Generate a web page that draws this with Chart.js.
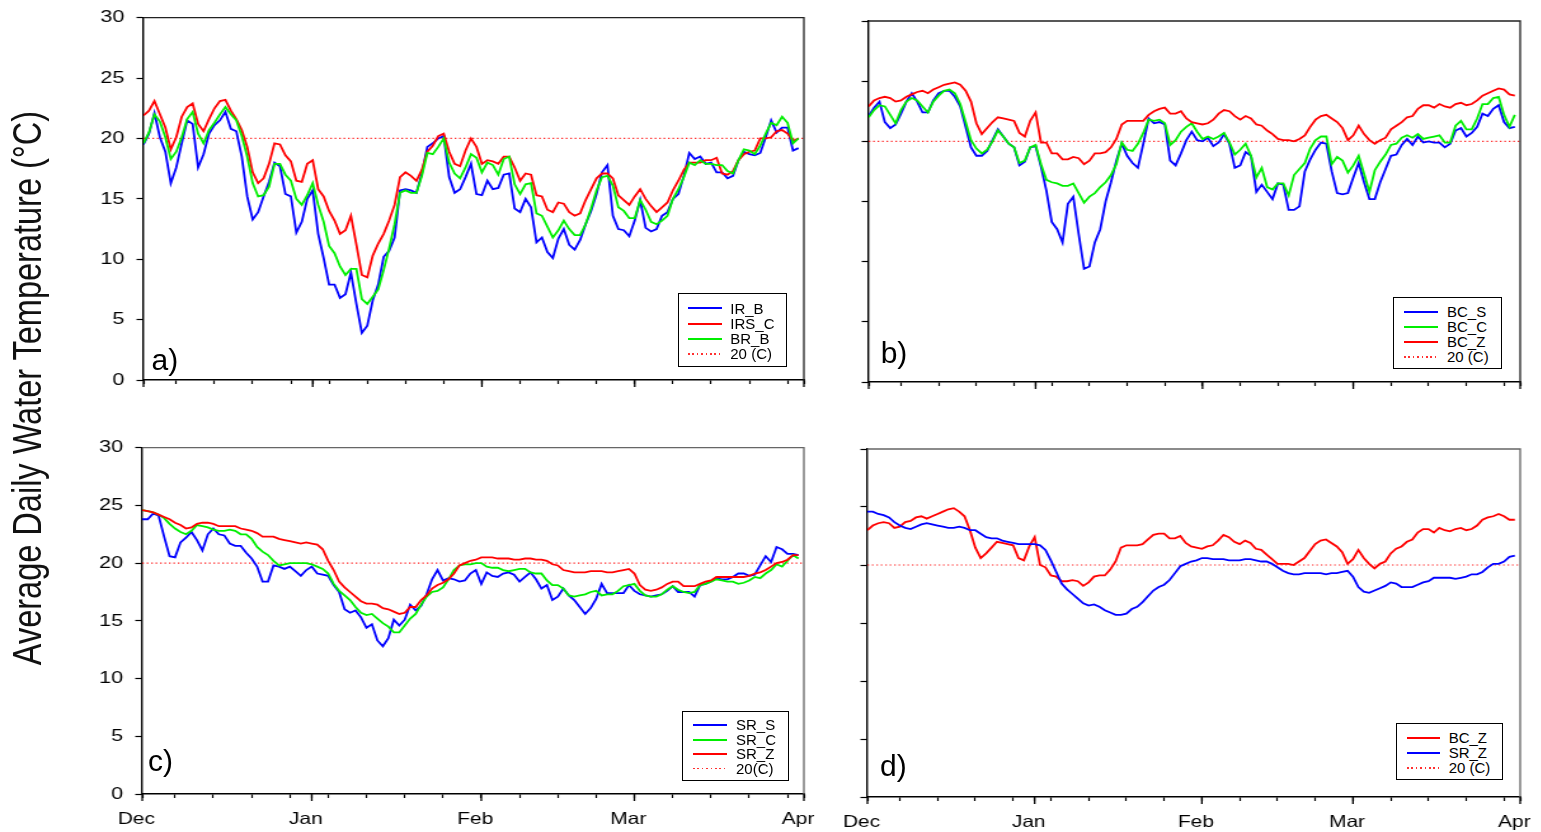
<!DOCTYPE html>
<html>
<head>
<meta charset="utf-8">
<script src="https://cdn.jsdelivr.net/npm/chart.js@4.4.1/dist/chart.umd.min.js"></script>
<style>
  html, body { margin: 0; padding: 0; background: #fff; }
  body { width: 1541px; height: 832px; position: relative; overflow: hidden;
         font-family: "Liberation Sans", Arial, sans-serif; }
  /* исходный рисунок растянут по горизонтали, повторяем это */
  #stage { position: absolute; left: 0; top: 0; width: 1214px; height: 832px;
           transform: scaleX(1.27); transform-origin: 0 0; }
  #stage canvas { position: absolute; }
  #ytitle { position: absolute; left: 22.2px; top: 388px; font-size: 32.5px; color: #111;
            white-space: nowrap; transform: translate(-50%, -50%) rotate(-90deg); }
  .legend { position: absolute; border: 1.6px solid #000; box-sizing: border-box; background: #fff; }
  .legend .row { position: absolute; left: 0; right: 0; height: 15px; }
  .legend .sample { position: absolute; top: 6.5px; height: 2px; }
  .legend .dots { height: 1.6px; top: 7px;
                  background: repeating-linear-gradient(90deg, #ff3030 0 1.6px, transparent 1.6px 4.4px); }
  .legend .txt { position: absolute; top: 0; font-size: 15px; line-height: 15px; color: #000; white-space: nowrap; }
  .plabel { position: absolute; font-size: 30px; line-height: 30px; color: #000; }
</style>
</head>
<body>
<div id="stage">
  <canvas id="chartA"></canvas>
  <canvas id="chartB"></canvas>
  <canvas id="chartC"></canvas>
  <canvas id="chartD"></canvas>
  <div id="ytitle">Average Daily Water Temperature (°C)</div>
</div>
<div class="plabel" style="left:151.5px; top:344.6px;">a)</div>
<div class="plabel" style="left:880.7px; top:338px;">b)</div>
<div class="plabel" style="left:148px; top:746.3px;">c)</div>
<div class="plabel" style="left:880px; top:751.3px;">d)</div>

<script>
// Ось X: дни от 1 декабря
const MONTHS = ['Dec', 'Jan', 'Feb', 'Mar', 'Apr'];
const MONTH_DAYS = [0, 31, 62, 90, 121];
const TICK_DAYS = [0, 6, 13, 20, 27, 31, 34, 41, 48, 55, 62, 69, 76, 83, 90, 97, 104, 111, 118, 121];
const THRESHOLD = 20;

// a) IR_B, IRS_C, BR_B
const irB = [
  19.5, 20.4, 22.1, 20.1, 18.9, 16.3, 17.6, 19.6, 21.5, 21.2,
  17.6, 18.7, 20.4, 21.1, 21.5, 22.2, 20.8, 20.6, 18.5, 15.2,
  13.3, 13.9, 15.2, 16.4, 18.0, 17.7, 15.4, 15.2, 12.2, 13.1,
  15.0, 15.7, 12.1, 10.1, 7.9, 7.9, 6.8, 7.1, 8.9, 6.3,
  3.9, 4.5, 6.6, 7.9, 10.2, 10.7, 11.8, 15.7, 15.8, 15.7,
  15.5, 17.1, 19.3, 19.6, 20.0, 20.2, 16.8, 15.5, 15.8, 16.8,
  17.9, 15.4, 15.3, 16.5, 15.8, 15.9, 17.0, 17.1, 14.2, 13.9,
  15.0, 14.3, 11.4, 11.8, 10.6, 10.1, 11.7, 12.5, 11.2, 10.8,
  11.6, 12.9, 14.0, 15.4, 17.2, 17.8, 13.6, 12.5, 12.4, 11.9,
  13.2, 14.9, 12.6, 12.3, 12.5, 13.6, 13.9, 15.0, 15.4, 16.9,
  18.8, 18.3, 18.5, 17.9, 18.0, 17.2, 17.2, 16.7, 16.9, 18.2,
  18.9, 18.7, 18.6, 18.8, 20.1, 21.5, 20.5, 20.9, 20.9, 19.0,
  19.2
];
const irsC = [
  21.9, 22.3, 23.1, 22.0, 20.9, 19.1, 20.1, 21.8, 22.6, 22.9,
  21.2, 20.6, 21.6, 22.5, 23.1, 23.2, 22.3, 21.6, 20.7, 19.3,
  17.2, 16.3, 16.7, 17.9, 19.6, 19.5, 18.6, 18.1, 16.5, 16.4,
  17.9, 18.2, 15.8, 15.2, 14.0, 13.2, 12.1, 12.4, 13.6, 11.2,
  8.7, 8.5, 10.3, 11.3, 12.1, 13.2, 14.5, 16.8, 17.2, 16.9,
  16.5, 17.4, 18.9, 19.4, 20.2, 20.4, 18.9, 17.9, 17.7, 19.0,
  20.0, 19.3, 17.9, 18.2, 18.1, 17.9, 18.5, 18.5, 17.6, 16.5,
  17.1, 17.0, 15.3, 15.2, 14.1, 13.9, 14.7, 14.6, 13.9, 13.6,
  13.8, 14.9, 15.8, 16.7, 17.1, 17.1, 16.7, 15.3, 14.9, 14.5,
  15.2, 15.8, 15.0, 14.4, 13.9, 14.3, 14.7, 15.7, 16.5, 17.4,
  18.0, 18.0, 18.0, 18.2, 18.2, 18.4, 17.1, 17.0, 17.3, 18.2,
  18.7, 18.9, 19.0, 20.0, 20.0, 20.1, 20.6, 20.7, 20.4, 19.8,
  20.0
];
const brB = [
  19.6, 20.5, 22.0, 21.4, 20.1, 18.3, 18.9, 20.1, 21.6, 22.2,
  20.4, 19.6, 20.7, 21.3, 22.0, 22.6, 22.0, 21.5, 20.2, 18.5,
  16.3, 15.2, 15.3, 16.0, 17.9, 17.9, 17.0, 16.5, 15.0, 14.5,
  15.3, 16.3, 14.5, 13.1, 11.1, 10.5, 9.4, 8.7, 9.2, 9.2,
  6.7, 6.3, 6.9, 7.5, 9.1, 10.9, 12.9, 15.5, 15.7, 15.5,
  15.5, 16.9, 18.8, 18.7, 19.3, 20.0, 18.0, 17.1, 16.7, 17.6,
  18.7, 18.4, 17.2, 18.0, 17.8, 17.0, 18.3, 18.5, 16.2, 15.4,
  16.2, 16.3, 13.8, 13.6, 12.7, 11.8, 12.4, 13.2, 12.5, 12.0,
  12.0, 12.9, 14.2, 15.7, 16.8, 16.9, 16.1, 14.3, 14.0, 13.4,
  13.4, 14.9, 14.1, 13.1, 12.9, 13.2, 13.6, 15.0, 15.8, 16.8,
  18.0, 17.8, 18.2, 17.9, 17.9, 17.8, 17.8, 17.3, 17.1, 18.2,
  19.1, 19.0, 18.7, 19.4, 20.4, 21.3, 21.1, 21.8, 21.3, 19.6,
  20.0
];

// b) BC_S, BC_C, BC_Z
const bcS = [
  22.1, 22.8, 23.3, 21.6, 21.1, 21.4, 22.3, 23.3, 24.0, 23.3,
  22.4, 22.4, 23.4, 24.0, 24.2, 24.2, 23.7, 22.9, 21.2, 19.5,
  18.8, 18.8, 19.2, 20.1, 21.0, 20.4, 19.8, 19.5, 18.0, 18.3,
  19.5, 19.6, 17.9, 15.9, 13.3, 12.7, 11.6, 14.8, 15.4, 12.3,
  9.4, 9.6, 11.6, 12.7, 15.0, 16.6, 18.4, 19.8, 18.8, 18.2,
  17.8, 19.8, 21.9, 21.5, 21.6, 21.4, 18.4, 18.0, 19.0, 20.1,
  20.8, 20.1, 20.0, 20.3, 19.6, 19.9, 20.6, 19.8, 17.8, 18.0,
  19.1, 18.8, 15.8, 16.4, 15.8, 15.2, 16.5, 16.4, 14.3, 14.3,
  14.6, 17.5, 18.5, 19.3, 19.9, 19.8, 17.5, 15.7, 15.6, 15.7,
  17.0, 18.2, 16.6, 15.2, 15.2, 16.6, 17.7, 18.8, 18.9, 19.7,
  20.2, 19.7, 20.4, 19.9, 20.0, 19.9, 19.9, 19.5, 19.8, 20.9,
  21.1, 20.4, 20.7, 21.2, 22.3, 22.1, 22.7, 23.0, 21.6, 21.1,
  21.2
];
const bcC = [
  22.0, 22.6, 23.0, 22.9, 22.2, 21.5, 22.6, 23.3, 23.6, 23.4,
  22.9, 22.4, 23.3, 23.8, 24.2, 24.3, 24.0, 23.1, 21.6, 20.1,
  19.4, 19.0, 19.3, 20.0, 20.9, 20.4, 19.8, 19.5, 18.2, 18.4,
  19.5, 19.7, 18.1, 16.8, 16.6, 16.5, 16.3, 16.3, 16.5, 15.7,
  14.9, 15.4, 15.7, 16.2, 16.6, 17.2, 18.1, 19.9, 19.3, 19.2,
  19.8, 20.7, 21.8, 21.7, 21.8, 21.5, 19.7, 20.1, 20.8, 21.2,
  21.5, 20.8, 20.2, 20.4, 20.2, 20.4, 20.7, 19.9, 18.9, 19.3,
  19.8, 18.8, 17.0, 17.8, 16.2, 16.0, 16.5, 16.5, 15.5, 17.2,
  17.7, 18.2, 19.4, 20.1, 20.4, 20.4, 18.1, 18.7, 18.4, 17.4,
  18.0, 18.8, 17.3, 15.8, 17.6, 18.3, 18.9, 19.7, 19.8, 20.3,
  20.5, 20.3, 20.6, 20.2, 20.3, 20.4, 20.5, 19.9, 19.9, 21.3,
  21.7, 21.0, 21.0, 21.9, 23.1, 23.1, 23.6, 23.7, 22.2, 21.2,
  22.2
];
const bcZ = [
  22.9, 23.4, 23.6, 23.7, 23.6, 23.3, 23.4, 23.7, 23.9, 24.1,
  24.2, 24.0, 24.3, 24.5, 24.7, 24.8, 24.9, 24.7, 24.2, 23.3,
  21.5, 20.6, 21.1, 21.6, 22.0, 21.9, 21.8, 21.7, 20.7, 20.4,
  21.7, 22.4, 19.9, 19.9, 19.0, 19.0, 18.5, 18.5, 18.7, 18.6,
  18.1, 18.4, 19.0, 19.0, 19.1, 19.5, 20.2, 21.4, 21.7, 21.7,
  21.7, 21.7, 22.2, 22.5, 22.7, 22.8, 22.3, 22.3, 22.5, 21.9,
  21.6, 21.5, 21.4, 21.5, 21.8, 22.3, 22.6, 22.5, 22.1, 21.8,
  22.1, 21.9, 21.4, 21.3, 20.9, 20.6, 20.2, 20.1, 20.1, 20.0,
  20.2, 20.5, 21.2, 21.8, 22.1, 22.2, 21.9, 21.6, 21.1, 20.1,
  20.5, 21.3, 20.6, 20.1, 19.8, 20.1, 20.3, 21.0, 21.3, 21.6,
  22.0, 22.1, 22.7, 23.0, 23.0, 22.8, 23.1, 22.9, 22.8, 23.1,
  23.2, 23.0, 23.1, 23.4, 23.8, 24.0, 24.2, 24.4, 24.3, 23.9,
  23.8
];

// c) SR_S, SR_C, SR_Z
const srS = [
  23.8, 23.8, 24.3, 24.1, 22.3, 20.6, 20.5, 21.8, 22.2, 22.7,
  22.0, 21.1, 22.5, 23.0, 22.5, 22.4, 21.7, 21.5, 21.5, 20.9,
  20.4, 19.7, 18.4, 18.4, 19.8, 19.7, 19.5, 19.7, 19.3, 18.9,
  19.4, 19.7, 19.1, 19.0, 18.9, 18.1, 17.5, 16.0, 15.7, 15.9,
  15.3, 14.4, 14.7, 13.3, 12.8, 13.5, 15.1, 14.6, 15.1, 16.4,
  15.9, 16.3, 17.3, 18.6, 19.4, 18.5, 18.7, 18.6, 18.4, 18.5,
  19.1, 19.4, 18.2, 19.2, 18.9, 18.8, 19.1, 19.2, 19.0, 18.4,
  18.8, 19.2, 18.6, 17.8, 18.1, 16.8, 17.1, 17.8, 17.2, 16.8,
  16.2, 15.6, 16.1, 16.9, 18.2, 17.4, 17.4, 17.4, 17.4, 18.1,
  17.6, 17.3, 17.2, 17.1, 17.2, 17.3, 17.6, 18.0, 17.5, 17.5,
  17.5, 17.1, 18.1, 18.2, 18.4, 18.7, 18.6, 18.6, 18.8, 19.1,
  19.1, 18.9, 19.0, 19.8, 20.6, 20.1, 21.4, 21.2, 20.8, 20.8,
  20.7
];
const srC = [
  24.6, 24.5, 24.4, 24.2, 23.9, 23.4, 23.0, 22.7, 22.5, 22.8,
  23.3, 23.2, 23.1, 22.9, 22.8, 22.8, 22.9, 22.8, 22.5, 22.5,
  22.1, 21.4, 21.0, 20.7, 20.2, 19.8, 19.9, 20.0, 20.0, 20.0,
  20.0, 19.9, 19.7, 19.5, 19.1, 18.2, 17.6, 17.2, 16.8, 16.2,
  15.7, 15.5, 15.6, 15.2, 14.8, 14.5, 14.0, 14.0, 14.6, 15.2,
  15.6, 16.4, 17.1, 17.5, 17.6, 17.9, 18.6, 19.4, 19.8, 19.9,
  19.9, 20.0, 20.0, 19.7, 19.6, 19.6, 19.4, 19.3, 19.4, 19.5,
  19.5, 19.2, 19.1, 19.1, 18.5, 18.1, 18.1, 17.8, 17.2, 17.1,
  17.2, 17.3, 17.5, 17.6, 17.2, 17.3, 17.3, 17.6, 18.0, 18.1,
  18.2, 17.6, 17.2, 17.1, 17.1, 17.3, 17.7, 18.0, 17.7, 17.5,
  17.4, 17.5, 18.1, 18.2, 18.4, 18.6, 18.5, 18.4, 18.4, 18.2,
  18.3, 18.5, 18.8, 18.7, 19.1, 19.4, 19.9, 19.7, 20.2, 20.7,
  20.4
];
const srZ = [
  24.6, 24.5, 24.4, 24.2, 24.0, 23.8, 23.5, 23.3, 23.0, 23.1,
  23.4, 23.5, 23.5, 23.4, 23.2, 23.2, 23.2, 23.2, 23.0, 22.9,
  22.8, 22.6, 22.3, 22.3, 22.3, 22.1, 22.0, 21.9, 21.8, 21.7,
  21.8, 21.7, 21.6, 21.2, 20.2, 19.4, 18.4, 17.9, 17.5, 17.1,
  16.7, 16.5, 16.5, 16.4, 16.1, 16.0, 15.8, 15.6, 15.7, 16.2,
  16.2, 16.8, 17.2, 17.8, 18.1, 18.3, 18.6, 19.1, 19.8, 20.0,
  20.2, 20.3, 20.5, 20.5, 20.5, 20.4, 20.4, 20.4, 20.3, 20.3,
  20.4, 20.4, 20.3, 20.3, 20.2, 19.9, 19.8, 19.4, 19.3, 19.2,
  19.2, 19.2, 19.3, 19.3, 19.3, 19.2, 19.2, 19.3, 19.4, 19.5,
  19.1, 18.1, 17.7, 17.6, 17.7, 17.9, 18.2, 18.4, 18.4, 18.0,
  18.0, 18.0, 18.2, 18.4, 18.5, 18.8, 18.8, 18.8, 18.8, 18.8,
  18.8, 18.9, 19.1, 19.2, 19.4, 19.7, 20.0, 20.1, 20.3, 20.7,
  20.7
];

// d) BC_Z, SR_Z
const bcZd = [
  23.0, 23.4, 23.6, 23.7, 23.6, 23.2, 23.3, 23.7, 23.8, 24.1,
  24.2, 24.0, 24.2, 24.4, 24.6, 24.8, 24.9, 24.6, 24.2, 23.0,
  21.5, 20.6, 21.0, 21.5, 22.0, 21.9, 21.8, 21.7, 20.6, 20.4,
  21.6, 22.4, 20.0, 19.8, 19.1, 19.0, 18.6, 18.6, 18.7, 18.6,
  18.2, 18.5, 19.0, 19.1, 19.1, 19.6, 20.3, 21.5, 21.7, 21.7,
  21.7, 21.8, 22.2, 22.6, 22.7, 22.7, 22.3, 22.3, 22.5, 21.9,
  21.6, 21.5, 21.4, 21.6, 21.7, 22.1, 22.6, 22.4, 22.0, 21.8,
  22.1, 21.9, 21.4, 21.3, 20.9, 20.5, 20.1, 20.1, 20.1, 20.0,
  20.3, 20.6, 21.2, 21.8, 22.1, 22.2, 21.9, 21.6, 21.1, 20.1,
  20.5, 21.3, 20.6, 20.1, 19.7, 20.1, 20.3, 21.0, 21.4, 21.6,
  22.0, 22.2, 22.8, 23.1, 23.1, 22.8, 23.2, 23.0, 22.9, 23.1,
  23.2, 23.0, 23.1, 23.4, 23.9, 24.1, 24.2, 24.4, 24.2, 23.9,
  23.9
];
const srZd = [
  24.6, 24.6, 24.4, 24.3, 24.1, 23.7, 23.4, 23.2, 23.1, 23.3,
  23.5, 23.6, 23.5, 23.4, 23.3, 23.2, 23.2, 23.3, 23.2, 23.0,
  23.0, 22.7, 22.4, 22.3, 22.3, 22.1, 22.0, 21.9, 21.8, 21.8,
  21.8, 21.8, 21.7, 21.3, 20.4, 19.4, 18.4, 17.9, 17.5, 17.1,
  16.7, 16.5, 16.6, 16.4, 16.1, 15.9, 15.7, 15.7, 15.8, 16.2,
  16.4, 16.8, 17.3, 17.8, 18.1, 18.3, 18.7, 19.3, 19.9, 20.1,
  20.3, 20.4, 20.6, 20.6, 20.5, 20.5, 20.5, 20.4, 20.4, 20.4,
  20.5, 20.5, 20.4, 20.3, 20.3, 20.1, 19.8, 19.5, 19.3, 19.2,
  19.2, 19.3, 19.3, 19.3, 19.3, 19.2, 19.3, 19.3, 19.4, 19.5,
  19.0, 18.1, 17.7, 17.6, 17.8, 18.0, 18.2, 18.5, 18.4, 18.1,
  18.1, 18.1, 18.3, 18.5, 18.6, 18.9, 18.9, 18.9, 18.9, 18.8,
  18.9, 19.0, 19.2, 19.2, 19.4, 19.8, 20.1, 20.1, 20.3, 20.7,
  20.8
];

const BLUE = '#0000ff', RED = '#ff0000', GREEN = '#00ee00';
const S = 1.27;                       // горизонтальное растяжение
const YW = 45, PT = 10, PR = 30, XH = 36;
const FONT = '"Liberation Sans", Arial, sans-serif';

// Доп. длина у меток месяцев и рамка сверху/справа
function framePlugin(frameColor) {
  return {
    id: 'frame',
    afterDraw(chart) {
      const ctx = chart.ctx, a = chart.chartArea, xs = chart.scales.x;
      ctx.save();
      ctx.strokeStyle = '#000';
      ctx.lineWidth = 1.3;
      MONTH_DAYS.forEach(d => {
        const px = xs.getPixelForValue(d);
        ctx.beginPath();
        ctx.moveTo(px, a.bottom);
        ctx.lineTo(px, a.bottom + 7);
        ctx.stroke();
      });
      ctx.strokeStyle = frameColor;
      ctx.beginPath();
      ctx.moveTo(a.left, a.top);
      ctx.lineTo(a.right, a.top);
      ctx.lineTo(a.right, a.bottom);
      ctx.stroke();
      ctx.restore();
    }
  };
}

function chartConfig(series, opts) {
  const datasets = series.map((s, i) => ({
    label: s.label,
    data: s.values.map((v, d) => ({ x: d, y: v })),
    borderColor: s.color,
    borderWidth: 1.8,
    pointRadius: 0,
    tension: 0,
    fill: false,
    order: series.length - i
  }));
  datasets.push({
    label: opts.refLabel,
    data: [{ x: 0, y: THRESHOLD }, { x: 121, y: THRESHOLD }],
    borderColor: 'rgba(255,0,0,0.85)',
    borderWidth: 1.2,
    borderDash: [1.3, 2.2],
    pointRadius: 0,
    order: series.length + 1
  });
  return {
    type: 'line',
    data: { datasets },
    options: {
      responsive: false,
      maintainAspectRatio: false,
      devicePixelRatio: 1,
      animation: false,
      events: [],
      layout: { padding: { left: 0, top: PT, right: PR, bottom: 0 } },
      plugins: { legend: { display: false }, tooltip: { enabled: false } },
      scales: {
        x: {
          type: 'linear', min: 0, max: 121,
          afterBuildTicks: sc => { sc.ticks = TICK_DAYS.map(v => ({ value: v })); },
          afterFit: sc => { sc.height = XH; },
          grid: { drawOnChartArea: false, tickLength: 4, tickColor: '#000', tickWidth: 1.2 },
          border: { color: '#000', width: 1.4 },
          ticks: {
            display: opts.xLabels, autoSkip: false, maxRotation: 0,
            padding: 11.8, labelOffset: -4.7, color: '#000',
            font: { family: FONT, size: 16.5 },
            callback: v => {
              const k = MONTH_DAYS.indexOf(v);
              return k >= 0 ? MONTHS[k] : '';
            }
          }
        },
        y: {
          min: 0, max: 30,
          afterFit: sc => { sc.width = YW; },
          grid: { drawOnChartArea: false, tickLength: 5.5, tickColor: '#000', tickWidth: 1.2 },
          border: { color: '#000', width: 1.4 },
          ticks: {
            display: opts.yLabels, stepSize: 5, padding: 9.5, color: '#000',
            font: { family: FONT, size: 17 }
          }
        }
      }
    },
    plugins: [framePlugin(opts.frame)]
  };
}

function makePanel(canvasId, box, series, opts) {
  const canvas = document.getElementById(canvasId);
  const l = box.L / S, r = box.R / S;
  const areaW = r - l, areaH = box.B - box.T;

  // пробный график: узнаём отступы области построения
  const w0 = 700, h0 = 420;
  canvas.width = w0;
  canvas.height = h0;
  let chart = new Chart(canvas, chartConfig(series, opts));
  const a = chart.chartArea;
  const offL = a.left, offT = a.top, offR = w0 - a.right, offB = h0 - a.bottom;
  chart.destroy();

  canvas.width = Math.round(offL + areaW + offR);
  canvas.height = Math.round(offT + areaH + offB);
  canvas.style.left = (l - offL) + 'px';
  canvas.style.top = (box.T - offT) + 'px';
  chart = new Chart(canvas, chartConfig(series, opts));

  // легенда поверх, в экранных координатах (она не растянута)
  const lg = document.createElement('div');
  lg.className = 'legend';
  const L = opts.legend;
  lg.style.left = L.left + 'px';
  lg.style.top = L.top + 'px';
  lg.style.width = L.width + 'px';
  lg.style.height = L.height + 'px';
  const rows = series.map(s => ({ label: s.label, color: s.color, dotted: false }));
  rows.push({ label: opts.refLabel, color: RED, dotted: true });
  rows.forEach((row, i) => {
    const el = document.createElement('div');
    el.className = 'row';
    el.style.top = (L.rows[i] - 7.5) + 'px';
    const smp = document.createElement('div');
    smp.className = row.dotted ? 'sample dots' : 'sample';
    if (!row.dotted) smp.style.background = row.color;
    smp.style.left = L.sx + 'px';
    smp.style.width = L.sw + 'px';
    const txt = document.createElement('div');
    txt.className = 'txt';
    txt.style.left = L.tx + 'px';
    txt.textContent = row.label;
    el.appendChild(smp);
    el.appendChild(txt);
    lg.appendChild(el);
  });
  document.body.appendChild(lg);
}

makePanel('chartA', { L: 143.3, T: 17.3, R: 804.3, B: 380 }, [
  { label: 'IR_B', values: irB, color: BLUE },
  { label: 'IRS_C', values: irsC, color: RED },
  { label: 'BR_B', values: brB, color: GREEN }
], { xLabels: false, yLabels: true, frame: '#222', refLabel: '20 (C)',
     legend: { left: 677.7, top: 293.3, width: 109.3, height: 74, rows: [14, 29.4, 44.4, 59.4], sx: 9.6, sw: 33.4, tx: 51.6 } });

makePanel('chartB', { L: 869.3, T: 20.7, R: 1520.7, B: 381.7 }, [
  { label: 'BC_S', values: bcS, color: BLUE },
  { label: 'BC_C', values: bcC, color: GREEN },
  { label: 'BC_Z', values: bcZ, color: RED }
], { xLabels: false, yLabels: false, frame: '#222', refLabel: '20 (C)',
     legend: { left: 1393.3, top: 297.3, width: 108.7, height: 72, rows: [13.4, 28.4, 43.4, 58.7], sx: 9.4, sw: 34.6, tx: 52.7 } });

makePanel('chartC', { L: 142.7, T: 447.3, R: 805, B: 793.3 }, [
  { label: 'SR_S', values: srS, color: BLUE },
  { label: 'SR_C', values: srC, color: GREEN },
  { label: 'SR_Z', values: srZ, color: RED }
], { xLabels: true, yLabels: true, frame: '#666', refLabel: '20(C)',
     legend: { left: 681.7, top: 710.7, width: 107.6, height: 70, rows: [13.3, 28, 42, 56.6], sx: 10, sw: 34, tx: 53.3 } });

makePanel('chartD', { L: 867.7, T: 449, R: 1520.7, B: 796.7 }, [
  { label: 'BC_Z', values: bcZd, color: RED },
  { label: 'SR_Z', values: srZd, color: BLUE }
], { xLabels: true, yLabels: false, frame: '#666', refLabel: '20 (C)',
     legend: { left: 1396, top: 723.3, width: 107.3, height: 56.7, rows: [13.4, 28.4, 43.4], sx: 9.7, sw: 33.6, tx: 51.7 } });
</script>
</body>
</html>
